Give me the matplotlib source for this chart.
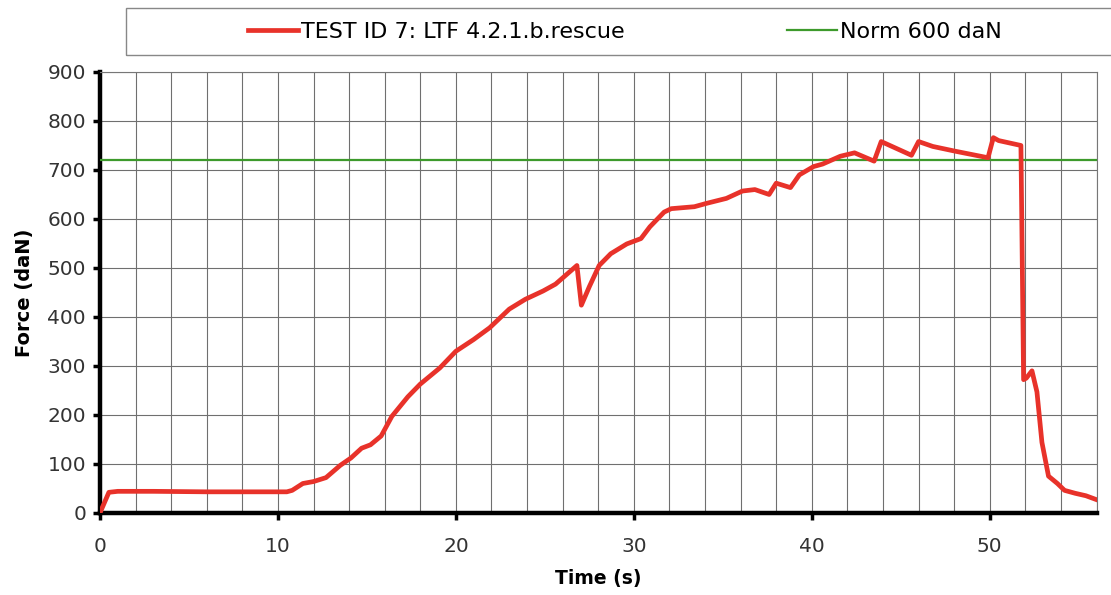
import matplotlib.pyplot as plt
from matplotlib.patches import Rectangle
from matplotlib.ticker import MultipleLocator

# Force curve
time_s = [0, 0.5, 1, 3, 6, 9, 10.5, 10.8, 11.4, 12.0, 12.7, 13.5, 14.1, 14.7,
          15.2, 15.8, 16.4, 17.3, 18.0, 19.1, 20.0, 21.0, 21.9, 23.0, 23.9,
          24.9, 25.6, 26.8, 27.05, 27.5, 28.05, 28.7, 29.6, 30.4, 30.9, 31.7,
          32.1, 33.4, 34.1, 35.2, 36.1, 36.8, 37.6, 38.0, 38.8, 39.3, 40.1,
          40.6, 41.6, 42.4, 43.5, 43.9, 45.6, 46.0, 46.8, 48.1, 49.9, 50.2,
          50.5, 51.75, 51.9, 52.05, 52.37, 52.65, 52.93, 53.3, 53.8, 54.2,
          54.8, 55.4, 56.0]
force_dan = [0, 42, 44, 44, 43, 43, 43, 46, 60, 64, 72, 97, 112, 132,
             139, 157, 197, 237, 263, 296, 330, 354, 378, 416, 436,
             453, 467, 505, 424, 462, 505, 529, 549, 560, 584, 614,
             621, 625, 632, 642, 657, 660, 650, 673, 664, 690, 707,
             712, 728, 735, 718, 758, 730, 758, 748, 738, 725, 766,
             760, 750, 272, 275, 290, 247, 144, 75, 60, 46,
             40, 35, 27]

norm_time = [0, 56]
norm_force = [720, 720]

series_label = "TEST ID 7: LTF 4.2.1.b.rescue"
norm_label = "Norm 600 daN"

fig = plt.figure(figsize=(11.11, 5.95), dpi=100)
ax = fig.add_axes([0.09, 0.138, 0.897, 0.741])

ax.plot(norm_time, norm_force, color="#3d9a2c", lw=1.6, label=norm_label, zorder=3)
ax.plot(time_s, force_dan, color="#e8322a", lw=3.4, label=series_label,
        solid_joinstyle="round", zorder=4)

ax.set_xlim(0, 56)
ax.set_ylim(0, 900)
ax.xaxis.set_major_locator(MultipleLocator(10))
ax.xaxis.set_minor_locator(MultipleLocator(2))
ax.yaxis.set_major_locator(MultipleLocator(100))
ax.grid(which="both", color="#6f6f6f", lw=0.8)
ax.set_axisbelow(True)
ax.tick_params(which="minor", length=0)
ax.tick_params(which="major", direction="out", length=5, width=2.5,
               labelsize=14.5, colors="black", labelcolor="#333333")
ax.tick_params(axis="x", which="major", pad=12)
ax.tick_params(axis="y", which="major", pad=5)

for side in ["left", "bottom"]:
    ax.spines[side].set_linewidth(3.2)
    ax.spines[side].set_color("black")
for side in ["top", "right"]:
    ax.spines[side].set_linewidth(0.8)
    ax.spines[side].set_color("#777777")

ax.set_xlabel("Time (s)", fontsize=13.5, fontweight="bold", labelpad=10)
ax.set_ylabel("Force (daN)", fontsize=14, fontweight="bold", labelpad=10)

# Legend box runs off the right edge in the reference
fig.patches.append(Rectangle((0.113, 0.908), 0.92, 0.079, transform=fig.transFigure,
                             fill=False, edgecolor="#888888", lw=1.0, clip_on=False))
handles, labels = ax.get_legend_handles_labels()
fig.legend(handles[::-1], labels[::-1], loc="center", bbox_to_anchor=(0.5626, 0.947),
           ncol=2, frameon=False, fontsize=16, handlelength=2.25, handletextpad=0.15,
           columnspacing=7.3)

fig.savefig("out.png", dpi=100)
